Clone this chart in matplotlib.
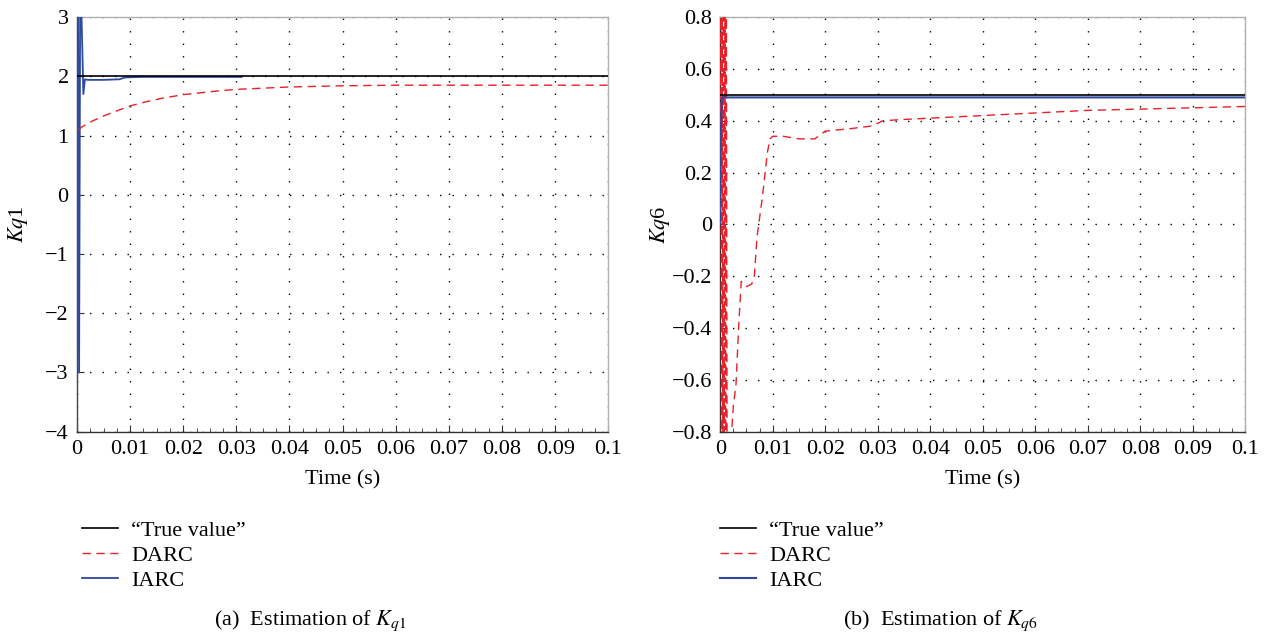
import numpy as np
import matplotlib.pyplot as plt
from matplotlib.ticker import AutoMinorLocator

plt.rcParams['font.family'] = ['Liberation Serif', 'DejaVu Serif']
plt.rcParams['mathtext.fontset'] = 'stix'

# (a) K_q1
t_true = [0.0, 0.1]
true_q1 = [2.0, 2.0]

t_darc_q1 = [0.0003, 0.001, 0.003, 0.005, 0.007, 0.01, 0.013, 0.016, 0.02, 0.025,
             0.03, 0.035, 0.04, 0.045, 0.05, 0.06, 0.08, 0.1]
darc_q1 = [1.1, 1.15, 1.25, 1.33, 1.4, 1.5, 1.57, 1.63, 1.69, 1.74,
           1.78, 1.8, 1.82, 1.83, 1.84, 1.85, 1.85, 1.85]

t_iarc_q1 = [0.0, 0.0002, 0.0004, 0.0006, 0.0008, 0.001, 0.0012, 0.0015, 0.002,
             0.005, 0.008, 0.009, 0.012, 0.031]
iarc_q1 = [-4.0, 3.2, -3.0, 3.2, 3.2, 2.5, 1.7, 1.95, 1.94,
           1.94, 1.95, 1.98, 1.99, 1.99]

# (b) K_q6
true_q6 = [0.5, 0.5]

t_iarc_q6 = [0.0, 0.0001, 0.0003, 0.1]
iarc_q6 = [0.0, 0.3, 0.49, 0.49]

t_darc_q6 = [0.0, 0.00013, 0.00026, 0.00039, 0.00052, 0.00065, 0.00078, 0.00091, 0.00104,
             0.00117, 0.0013, 0.0015, 0.002, 0.0025, 0.003, 0.0035, 0.004, 0.0045,
             0.005, 0.006, 0.0065, 0.007, 0.008, 0.009, 0.0095, 0.01, 0.012, 0.015,
             0.018, 0.02, 0.025, 0.029, 0.031, 0.035, 0.04, 0.045, 0.05, 0.06,
             0.07, 0.08, 0.09, 0.1]
darc_q6 = [0.0, 0.8, -0.8, 0.8, -0.8, 0.8, -0.8, 0.8, -0.8,
           0.8, -0.8, -0.85, -0.85, -0.7, -0.62, -0.4, -0.22, -0.23,
           -0.24, -0.23, -0.2, -0.05, 0.1, 0.28, 0.33, 0.34, 0.34, 0.33,
           0.33, 0.36, 0.37, 0.38, 0.4, 0.405, 0.41, 0.415, 0.42, 0.43,
           0.44, 0.445, 0.45, 0.455]

x_ticks = [0, 0.01, 0.02, 0.03, 0.04, 0.05, 0.06, 0.07, 0.08, 0.09, 0.1]
x_labels = ['0', '0.01', '0.02', '0.03', '0.04', '0.05', '0.06', '0.07', '0.08', '0.09', '0.1']

fig = plt.figure(figsize=(12.68, 6.33), dpi=100)
ax1 = fig.add_axes([0.0607, 0.318, 0.419, 0.655])
ax2 = fig.add_axes([0.568, 0.318, 0.414, 0.655])

red = '#e8202a'
blue = '#2e4a9e'

ax1.plot(t_iarc_q1, iarc_q1, color=blue, lw=1.3, label='IARC', zorder=3)
ax1.plot(t_true, true_q1, color='black', lw=1.2, label='\u201cTrue value\u201d', zorder=4)
ax1.plot(t_darc_q1, darc_q1, color=red, lw=1.0, ls=(0, (6, 4)), label='DARC', zorder=3)
ax1.set_ylim(-4, 3)
ax1.set_yticks(range(-4, 4))
ax1.set_yticklabels(['\u22124', '\u22123', '\u22122', '\u22121', '0', '1', '2', '3'])
ax1.set_ylabel(r'$\mathit{Kq}$1', fontsize=16, labelpad=11)

ax2.plot(t_darc_q6, darc_q6, color=red, lw=1.0, ls=(0, (6, 4)), label='DARC', zorder=3)
ax2.plot(t_iarc_q6, iarc_q6, color=blue, lw=1.5, label='IARC', zorder=3)
ax2.plot(t_true, true_q6, color='black', lw=1.2, label='\u201cTrue value\u201d', zorder=4)
ax2.set_ylim(-0.8, 0.8)
ax2.set_yticks(np.arange(-0.8, 0.81, 0.2))
ax2.set_yticklabels(['\u22120.8', '\u22120.6', '\u22120.4', '\u22120.2', '0', '0.2', '0.4', '0.6', '0.8'])
ax2.set_ylabel(r'$\mathit{Kq}$6', fontsize=16, labelpad=0)

for ax in (ax1, ax2):
    ax.set_xlim(0, 0.1)
    ax.set_xticks(x_ticks)
    ax.set_xticklabels(x_labels)
    ax.xaxis.set_minor_locator(AutoMinorLocator(4))
    ax.set_xlabel('Time (s)', fontsize=16, labelpad=8)
    ax.tick_params(direction='in', labelsize=16, color='#333333', length=5, pad=6)
    ax.tick_params(which='minor', direction='in', color='#333333', length=3)
    ax.grid(True, color='black', ls=(0, (1, 8)), lw=1.0)
    for side, s in ax.spines.items():
        s.set_color('#333333' if side in ('left', 'bottom') else '#b0b0b0')
        s.set_linewidth(1.0)

order = ['\u201cTrue value\u201d', 'DARC', 'IARC']
for ax, x0 in ((ax1, 82 / 1268), (ax2, 720 / 1268)):
    h, l = ax.get_legend_handles_labels()
    hd = dict(zip(l, h))
    ax.legend([hd[k] for k in order], order, loc='upper left',
              bbox_to_anchor=(x0, 1 - 520 / 633), bbox_transform=fig.transFigure,
              frameon=False, fontsize=16, handlelength=1.6, handletextpad=0.6,
              labelspacing=0.2, borderpad=0, borderaxespad=0)

fig.text(0.245, 0.012, r'(a)  Estimation of $K_{q1}$', ha='center', fontsize=16)
fig.text(0.742, 0.012, r'(b)  Estimation of $K_{q6}$', ha='center', fontsize=16)

fig.savefig('out.png', dpi=100)
